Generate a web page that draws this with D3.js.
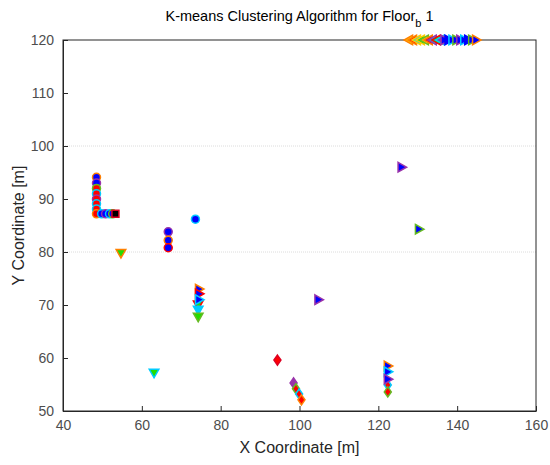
<!DOCTYPE html>
<html>
<head>
<meta charset="utf-8">
<script src="https://cdn.jsdelivr.net/npm/d3@7"></script>
<style>
  body { margin: 0; background: #fff; }
  svg { font-family: "Liberation Sans", Arial, sans-serif; }
</style>
</head>
<body>
<svg id="chart" width="550" height="465"></svg>
<script>
(function(){

  var W = 550, H = 465;
  var margin = {top: 40, right: 14, bottom: 54, left: 63};

  var xTicks = [40, 60, 80, 100, 120, 140, 160];
  var yTicks = [50, 60, 70, 80, 90, 100, 110, 120];
  var gridY = [80, 100];

  // point groups
  var topLeftX  = [127.8, 128.8, 129.8, 130.8, 131.8, 132.8, 133.8, 134.8, 135.8];
  var topLeftY  = [120, 120, 120, 120, 120, 120, 120, 120, 120];
  var topRightX = [136.8, 137.8, 138.8, 139.8, 140.8, 141.8, 142.8, 143.8, 144.8];
  var topRightY = [120, 120, 120, 120, 120, 120, 120, 120, 120];
  var leftColX  = [48.5, 48.5, 48.5, 48.5, 48.5, 48.5, 48.5, 48.5];
  var leftColY  = [94.1, 93.0, 92.0, 91.0, 90.0, 89.1, 88.1, 87.2];
  var leftRowX  = [49.8, 50.8, 51.8, 52.6];
  var leftRowY  = [87.2, 87.2, 87.2, 87.2];
  var squareX   = [53.3];
  var squareY   = [87.2];
  var loneX     = [73.6];
  var loneY     = [86.2];
  var col67X    = [66.7, 66.7, 66.7];
  var col67Y    = [83.8, 82.2, 80.8];
  var col74RX   = [74.5, 74.5, 74.5];
  var col74RY   = [73.0, 72.1, 71.0];
  var col74DX   = [74.3, 74.3, 74.3];
  var col74DY   = [70.1, 69.1, 67.8];
  var downX     = [54.7, 63.1];
  var downY     = [79.8, 57.2];
  var rightX    = [125.9, 130.3, 104.8];
  var rightY    = [96.0, 84.3, 71.0];
  var diamondX  = [94.4, 98.5, 99.1, 99.9, 100.5];
  var diamondY  = [59.6, 55.3, 54.2, 53.2, 52.1];
  var col122RX  = [122.4, 122.4, 122.4];
  var col122RY  = [58.5, 57.4, 56.0];
  var col122DX  = [122.4, 122.4];
  var col122DY  = [54.9, 53.6];

  // colours
  var C = {
    blue: "#0000ff", red: "#ff0000", green: "#22dd00", cyan: "#00ccff",
    orange: "#ff8000", yellow: "#ffcc00", purple: "#9933aa", black: "#000000",
    lime: "#66bb22", dred: "#dd0022"
  };

  var groups = [
    {x: topLeftX, y: topLeftY, m: "<",
     face: ["yellow","red","cyan","green","yellow","red","cyan","green","purple"],
     edge: ["orange","orange","yellow","yellow","lime","orange","purple","red","cyan"]},
    {x: topRightX, y: topRightY, m: ">",
     face: ["blue","blue","blue","blue","blue","blue","blue","blue","blue"],
     edge: ["purple","blue","cyan","lime","purple","cyan","blue","lime","orange"]},
    {x: leftColX, y: leftColY, m: "o",
     face: ["blue","blue","red","red","red","red","red","red"],
     edge: ["orange","purple","lime","cyan","purple","cyan","cyan","orange"]},
    {x: leftRowX, y: leftRowY, m: "o",
     face: ["blue","blue","blue","blue"],
     edge: ["cyan","purple","cyan","lime"]},
    {x: squareX, y: squareY, m: "s", face: ["black"], edge: ["dred"]},
    {x: loneX, y: loneY, m: "o", face: ["blue"], edge: ["cyan"]},
    {x: col67X, y: col67Y, m: "o",
     face: ["blue","blue","blue"], edge: ["purple","orange","red"]},
    {x: col74DX, y: col74DY, m: "v",
     face: ["green","cyan","green"], edge: ["red","cyan","lime"]},
    {x: col74RX, y: col74RY, m: ">",
     face: ["blue","blue","blue"], edge: ["orange","red","cyan"]},
    {x: downX, y: downY, m: "v",
     face: ["green","green"], edge: ["orange","cyan"]},
    {x: rightX, y: rightY, m: ">",
     face: ["blue","blue","blue"], edge: ["purple","lime","purple"]},
    {x: diamondX, y: diamondY, m: "d",
     face: ["red","purple","red","red","red"],
     edge: ["dred","purple","lime","cyan","orange"]},
    {x: col122DX, y: col122DY, m: "d",
     face: ["red","red"], edge: ["cyan","lime"]},
    {x: col122RX, y: col122RY, m: ">",
     face: ["blue","blue","blue"], edge: ["orange","cyan","purple"]}
  ];

  function markerPath(m) {
    var s = 5;
    switch (m) {
      case "o": return d3.symbol(d3.symbolCircle, 50)();
      case "s": return "M-3.5,-3.5H3.5V3.5H-3.5Z";
      case "d": return "M0," + (-s) + "L" + (s*0.7) + ",0L0," + s + "L" + (-s*0.7) + ",0Z";
      case ">": return "M-3.5,-4.8L5,0L-3.5,4.8Z";
      case "<": return "M3.5,-4.8L-5,0L3.5,4.8Z";
      case "v": return "M-4.8,-3.5L4.8,-3.5L0,5Z";
    }
  }

  var svg = d3.select("#chart");
  var iw = W - margin.left - margin.right;
  var ih = H - margin.top - margin.bottom;

  var x = d3.scaleLinear().domain([40, 160]).range([margin.left, margin.left + iw]);
  var y = d3.scaleLinear().domain([50, 120]).range([margin.top + ih, margin.top]);

  var ink = "#262626";

  // faint grid lines
  svg.append("g").selectAll("line").data(gridY).enter().append("line")
    .attr("x1", x(40)).attr("x2", x(160))
    .attr("y1", function(d){ return y(d); }).attr("y2", function(d){ return y(d); })
    .attr("stroke", "#dcdcdc").attr("stroke-dasharray", "1,1");

  // box
  svg.append("rect")
    .attr("x", x(40)).attr("y", y(120))
    .attr("width", iw).attr("height", ih)
    .attr("fill", "none").attr("stroke", ink).attr("stroke-width", 1);

  var xAxis = d3.axisBottom(x).tickValues(xTicks).tickSizeInner(-5).tickSizeOuter(0).tickPadding(9);
  var yAxis = d3.axisLeft(y).tickValues(yTicks).tickSizeInner(-5).tickSizeOuter(0).tickPadding(9);

  var gx = svg.append("g").attr("transform", "translate(0," + (margin.top + ih) + ")").call(xAxis);
  var gy = svg.append("g").attr("transform", "translate(" + margin.left + ",0)").call(yAxis);
  [gx, gy].forEach(function(g){
    g.select(".domain").attr("stroke", ink);
    g.selectAll(".tick line").attr("stroke", ink);
    g.selectAll(".tick text").attr("fill", "#4d4d4d").style("font-size", "14px")
      .style("font-family", "'Liberation Sans', Arial, sans-serif");
  });
  gx.select(".tick:first-of-type text").attr("dy", "0.71em");

  // markers
  groups.forEach(function(g){
    svg.append("g").selectAll("path").data(d3.range(g.x.length)).enter().append("path")
      .attr("d", markerPath(g.m))
      .attr("transform", function(i){ return "translate(" + x(g.x[i]) + "," + y(g.y[i]) + ")"; })
      .attr("fill", function(i){ return C[g.face[i]]; })
      .attr("stroke", function(i){ return C[g.edge[i]]; })
      .attr("stroke-width", 1.5);
  });

  // title
  var title = svg.append("text")
    .attr("x", x(100)).attr("y", 21)
    .attr("text-anchor", "middle")
    .attr("fill", "#000").style("font-size", "14.5px");
  title.append("tspan").text("K-means Clustering Algorithm for Floor");
  title.append("tspan").attr("dy", 6).style("font-size", "11px").text("b");
  title.append("tspan").attr("dy", -6).text(" 1");

  svg.append("text")
    .attr("x", x(100)).attr("y", 453)
    .attr("text-anchor", "middle").attr("fill", ink)
    .style("font-size", "16px").text("X Coordinate [m]");

  svg.append("text")
    .attr("transform", "translate(24," + y(85) + ") rotate(-90)")
    .attr("text-anchor", "middle").attr("fill", ink)
    .style("font-size", "16px").text("Y Coordinate [m]");

})();
</script>
</body>
</html>
